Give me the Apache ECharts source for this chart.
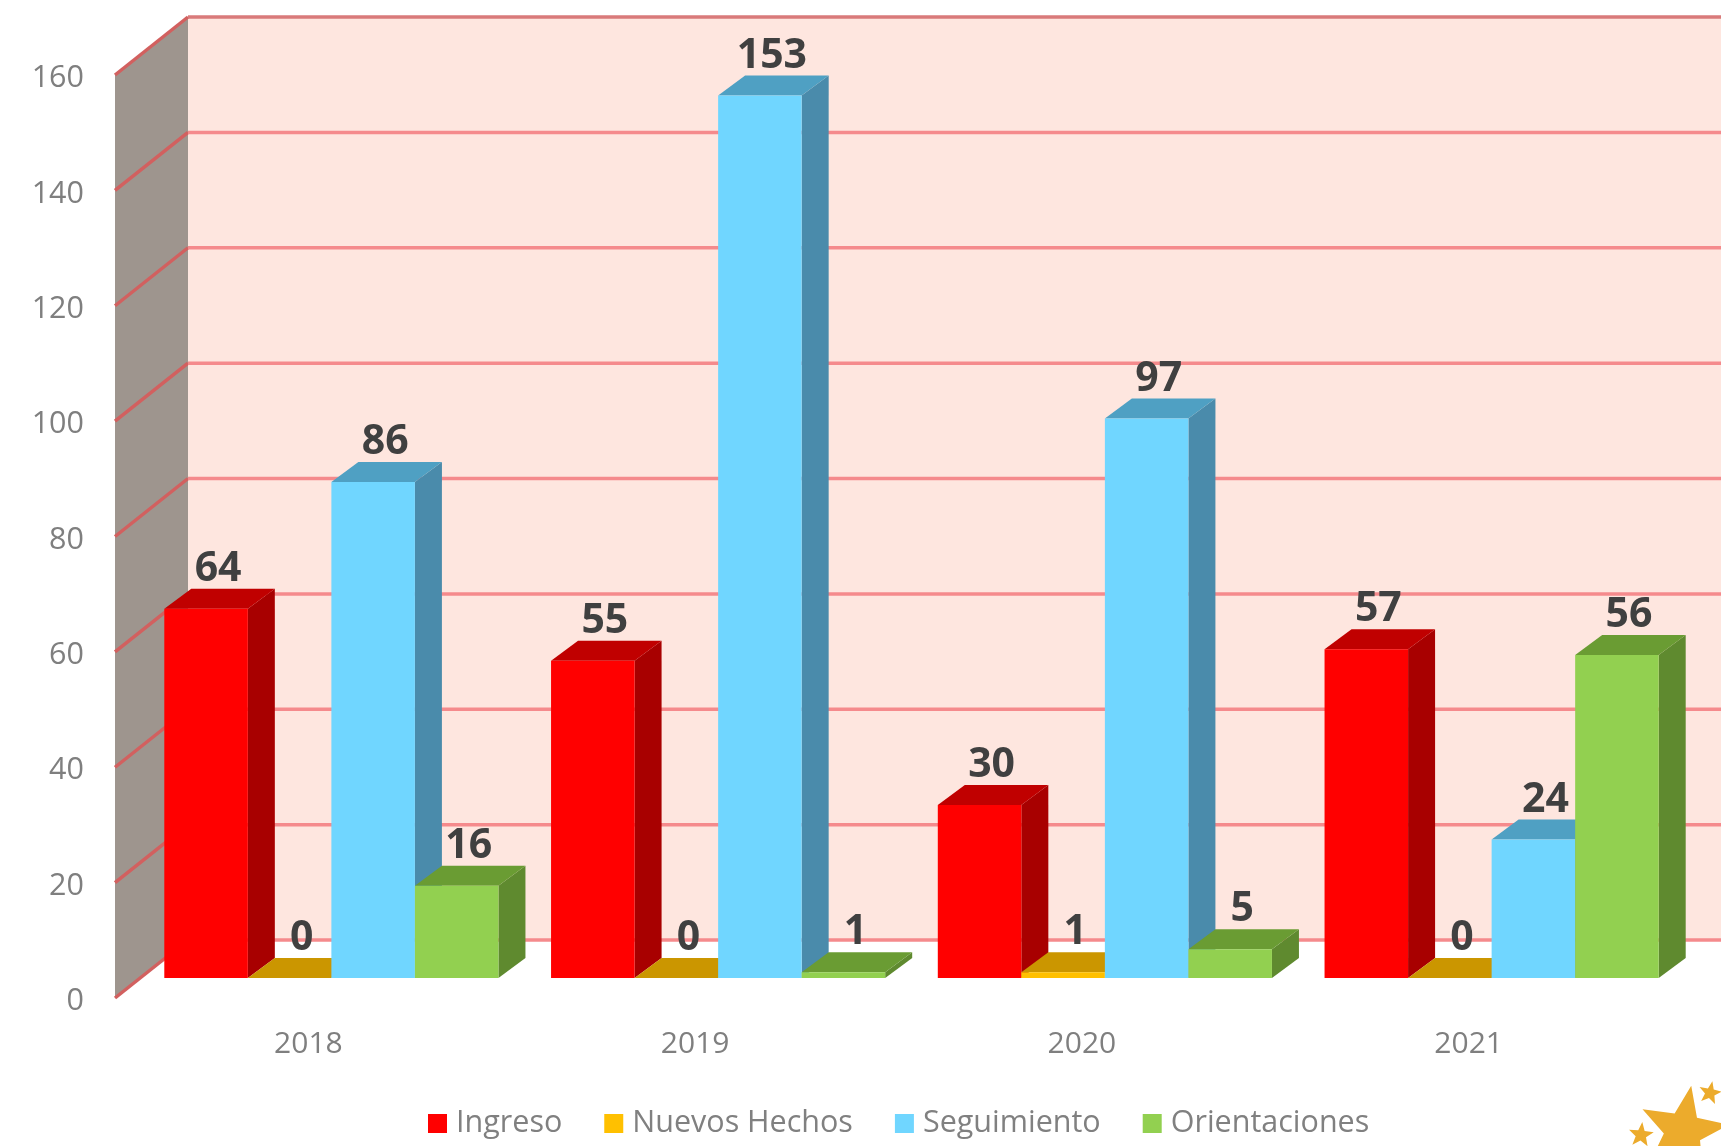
<!DOCTYPE html>
<html>
<head>
<meta charset="utf-8">
<style>html,body{margin:0;padding:0;background:#fff;overflow:hidden}#c{width:1721px;height:1146px;filter:blur(0.7px)}</style>
<script src="https://cdn.jsdelivr.net/npm/echarts@6/dist/echarts.min.js"></script>
</head>
<body>
<div id="c"></div>
<script>
const categories = ['2018', '2019', '2020', '2021'];
const ingreso = [64, 55, 30, 57];
const nuevosHechos = [0, 0, 1, 0];
const seguimiento = [86, 153, 97, 24];
const orientaciones = [16, 1, 5, 56];
const yTicks = [0, 20, 40, 60, 80, 100, 120, 140, 160];

const WALL_DX = 73, WALL_DY = 58;
const PLANE_DX = 23, PLANE_DY = 20;
const BAR_DX = 27, BAR_DY = 20;
const BAR_FRAC = 0.216;

const chart = echarts.init(document.getElementById('c'), null, {renderer: 'canvas'});

function wallItem(params, api) {
  const cs = params.coordSys;
  const l = cs.x, b = cs.y + cs.height, t = cs.y;
  const r = cs.x + cs.width + WALL_DX;
  return {type: 'group', children: [
    {type: 'polygon', shape: {points: [[l + WALL_DX, t - WALL_DY], [r, t - WALL_DY], [r, b - WALL_DY], [l + WALL_DX, b - WALL_DY]]}, style: {fill: '#fee6df'}},
    {type: 'polygon', shape: {points: [[l, t], [l + WALL_DX, t - WALL_DY], [l + WALL_DX, b - WALL_DY], [l, b]]}, style: {fill: '#9e958e'}}
  ]};
}

function gridItem(params, api) {
  const cs = params.coordSys;
  const v = api.value(0);
  const y = api.coord([categories[0], v])[1];
  const l = cs.x, r = cs.x + cs.width + WALL_DX;
  const top = v === yTicks[yTicks.length - 1];
  return {type: 'group', children: [
    {type: 'line', shape: {x1: l, y1: y, x2: l + WALL_DX, y2: y - WALL_DY}, style: {stroke: '#d2605f', lineWidth: 3.5}},
    {type: 'line', shape: {x1: l + WALL_DX, y1: y - WALL_DY, x2: r, y2: y - WALL_DY}, style: {stroke: top ? '#d97a7a' : '#f58a8c', lineWidth: 3.5}}
  ]};
}

function barSeries(name, values, idx, front, side, top) {
  return {
    name: name,
    type: 'custom',
    coordinateSystem: 'cartesian2d',
    itemStyle: {color: front},
    encode: {x: 0, y: 1},
    data: categories.map((c, i) => [c, values[i]]),
    z: 5 + idx,
    renderItem: function (params, api) {
      const v = api.value(1);
      const p = api.coord([api.value(0), v]);
      const base = api.coord([api.value(0), 0])[1] - PLANE_DY;
      const band = api.size([1, 0])[0];
      const w = band * BAR_FRAC;
      const x0 = p[0] + PLANE_DX + (idx - 2) * w;
      const x1 = x0 + w;
      const y = p[1] - PLANE_DY;
      return {type: 'group', children: [
        {type: 'polygon', shape: {points: [[x1, y], [x1 + BAR_DX, y - BAR_DY], [x1 + BAR_DX, base - BAR_DY], [x1, base]]}, style: {fill: side}},
        {type: 'polygon', shape: {points: [[x0, y], [x0 + BAR_DX, y - BAR_DY], [x1 + BAR_DX, y - BAR_DY], [x1, y]]}, style: {fill: top}},
        {type: 'rect', shape: {x: x0, y: y, width: w, height: base - y}, style: {fill: front}},
        {type: 'text', z2: 100, style: {text: String(v), x: (x0 + x1) / 2 + 12, y: y - BAR_DY + 1, align: 'center', verticalAlign: 'bottom',
          fill: '#404040', font: 'bold 41px "Open Sans", sans-serif'}}
      ]};
    }
  };
}

function star(cx, cy, R, rot) {
  const pts = [];
  for (let i = 0; i < 10; i++) {
    const r = i % 2 ? R * 0.42 : R;
    const a = -Math.PI / 2 + rot + i * Math.PI / 5;
    pts.push([cx + r * Math.cos(a), cy + r * Math.sin(a)]);
  }
  return {type: 'polygon', shape: {points: pts}, style: {fill: '#ecab2c'}};
}

chart.setOption({
  animation: false,
  backgroundColor: '#ffffff',
  grid: {left: 115, right: 59, top: 75, bottom: 148, containLabel: false},
  xAxis: {
    type: 'category', data: categories,
    axisLine: {show: false}, axisTick: {show: false}, splitLine: {show: false},
    axisLabel: {color: '#7f7f7f', fontFamily: '"Open Sans", sans-serif', fontSize: 30, margin: 31}
  },
  yAxis: {
    type: 'value', min: 0, max: 160, interval: 20,
    axisLine: {show: false}, axisTick: {show: false}, splitLine: {show: false},
    axisLabel: {color: '#7f7f7f', fontFamily: '"Open Sans", sans-serif', fontSize: 30.5, margin: 31, verticalAlign: 'top', lineHeight: 7}
  },
  legend: {
    left: 423, top: 1103, icon: 'rect', itemWidth: 19, itemHeight: 19, itemGap: 42,
    textStyle: {color: '#808080', fontFamily: '"Open Sans", sans-serif', fontSize: 30.5, padding: [0, 0, 0, 4]},
    data: ['Ingreso', 'Nuevos Hechos', 'Seguimiento', 'Orientaciones']
  },
  graphic: [
    star(1683, 1131, 46, 0.18),
    star(1710, 1093, 12, 0.2),
    star(1641, 1135, 13, 0.1)
  ],
  series: [
    {type: 'custom', silent: true, renderItem: wallItem, data: [[0]], encode: {y: 0}, z: 1, legendHoverLink: false},
    {type: 'custom', silent: true, renderItem: gridItem, data: yTicks.map(v => [v]), encode: {y: 0}, z: 2},
    barSeries('Ingreso', ingreso, 0, '#ff0000', '#a80000', '#c00000'),
    barSeries('Nuevos Hechos', nuevosHechos, 1, '#ffc000', '#a88000', '#cb9600'),
    barSeries('Seguimiento', seguimiento, 2, '#70d6ff', '#4a8bab', '#4fa0c3'),
    barSeries('Orientaciones', orientaciones, 3, '#92d050', '#5f8a2f', '#6a9c33')
  ]
});
</script>
</body>
</html>
